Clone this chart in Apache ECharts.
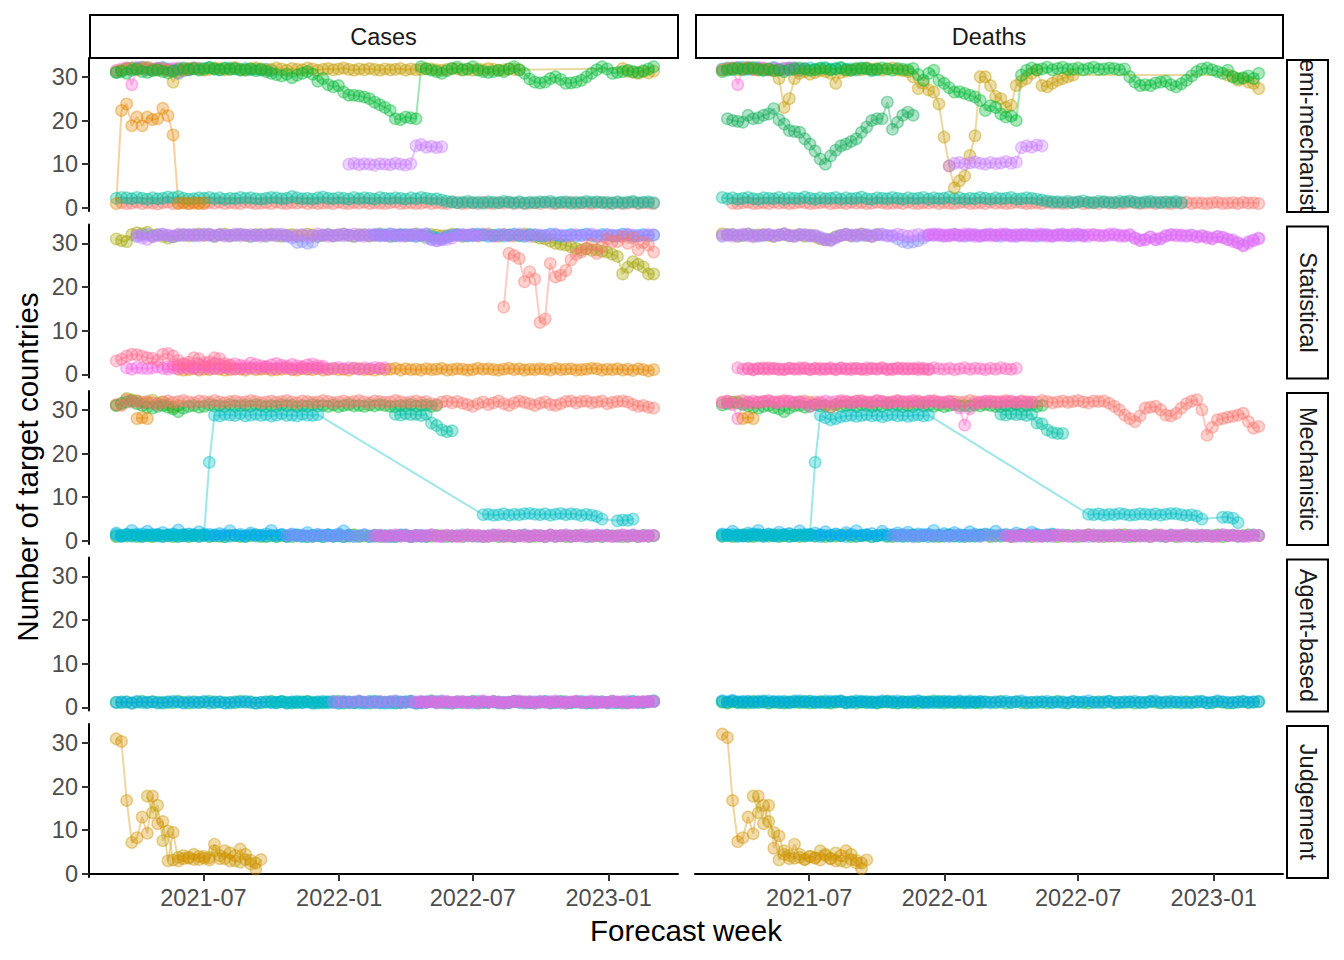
<!DOCTYPE html>
<html>
<head>
<meta charset="utf-8">
<title>Number of target countries by forecast week</title>
<script src="https://cdn.jsdelivr.net/npm/echarts@6/dist/echarts.min.js"></script>
<style>
html, body { margin: 0; padding: 0; background: #fff; }
#chart { width: 1344px; height: 960px; }
</style>
</head>
<body>
<div id="chart"></div>
<script>
// ---- data -------------------------------------------------------------
// week 0 of every array below = first forecast week, one value per week
var firstWeek = Date.UTC(2021, 2, 5);
var xTicks = ['2021-07', '2022-01', '2022-07', '2023-01'];
var yTicks = [0, 10, 20, 30];
var targets = ['Cases', 'Deaths'];
var modelTypes = ['Semi-mechanistic', 'Statistical', 'Mechanistic', 'Agent-based', 'Judgement'];

// Semi-mechanistic, cases
var scOrange = [1,22.3,23.8,18.8,20.8,18.8,20.8,20.2,20.4,22.8,21.1,16.7,1,1.2,1,1.1,1,1.2];
var scOliveA = [31.2,31.5,31.8,32,31.6,31.9,32.1,31.7,31.5,31.8,31.4,28.8,31.2,31.6,31.9,32,31.8,31.5,31.7,32,31.9,31.6,31.8,32.1,31.7,31.5,31.9,32,31.8,31.6,31.7,32,31.8,31.5,31.9,31.7,31.6,32,31.8,31.5,31.7,31.9,31.6,31.8,32,31.7,31.5,31.8,31.6,31.9,31.7,31.5,31.8,31.6,31.7,31.9,31.5,31.8,31.6,31.7,31.9,31.8,31.6,31.5,31.7,31.9,31.8,31.6,31.7,31.5,31.8,31.6,31.9,31.7,31.5,31.6,31.8,31.7,31.6];
var scOliveB = [31.9,31.3,31,30.8,31.2,30.9,31.3];
var scGreen = [31,31.2,30.8,31.5,31.8,31.2,31,31.4,31.6,31.2,30.9,31.3,31.7,32,31.6,31.8,31.5,31.9,32.1,31.8,31.6,32,31.7,31.9,31.5,31.6,31.8,31.4,31.7,31.2,30.8,
  30.5,30.2,30.6,29.8,30.4,30.8,31.2,30.6,
  29,29.6,28.2,27.7,28,26.5,25.8,25.8,25.6,25.4,25,24.2,23.6,23,22.3,20.4,20.2,20.8,20.6,20.4,
  32.3,31.8,31.5,31.2,30.8,31.4,31.9,32.2,31.6,31.8,32.3,31.5,31.2,31,31.2,31.5,31.2,31.8,32.3,31.6,30.8,29.5,28.8,28.6,28.8,29.6,30,29.4,28.5,28.6,28.8,29.2,30,30.8,31.6,32.3,31.8,30.8,31,31.2,31.5,31.2,31,31.4,31.8,32.3];
var scViolet = [10,10.2,9.9,10.1,10,9.8,10.1,10,9.9,10.2,10,9.8,10.1,14.2,14.5,13.9,14.1,13.8,14];
var scPink = [31.5,31.8,32,28.2,31.9,32.1,31.6,31.8,32,31.7,31.5,31.9,32,31.8,31.6];
var scCyan = [31,31.4,31.8,32,31.9,32.2,31.8,31.6,31.9,32.1,31.7,31.5,30.8,31.4,31.8,32,31.9,31.7,32.1,31.8,31.6,31.9,32,31.8,31.7,31.9,31.6,31.8,31.5,31.7,31.4];
var scPurple = [32,31.8,32.2,31.9,32.1,31.7,31.9,32,31.8,31.6,30.9,31.5,31.8,32,31.9];
var scTealA = [2.2,2.4,2.3,2.1,2.4,2.2,2,2.3,2.1,2.2,2.5,2.3,2.6,2.2,2,2.1,2.3,2.2,2.4,2.1,2.3,2,2.2,2.1,2.4,2.2,2.3,2.1,2,2.2,2.4,2.3,2.1,2.2,2.6,2.3,2.1,2.2,2,2.3,2.5,2.2,2.1,2.3,2.2,2,2.4,2.1,2.3,2.2,2,2.4,2.2,2.1,2.3,2.2,2,2.3,2.1,2.4,2.2,2,2.1,1.8,1.5];
var scTealB = [1.4,1.2,1.3,1.5,1.2,1.3,1.1,1.4,1.3,1.2,1.5,1.3,1.2,1.4,1.1,1.3,1.2,1.4,1.3,1.5,1.2,1.3,1.4,1.1,1.3,1.2,1.5,1.3,1.4,1.2,1.3,1.1,1.4,1.2,1.3,1.5,1.2,1.3,1.4,1.2];
var scRed = [1.2,1,1.1,1.3,1,1.2,1.1,0.9,1.2,1.3,1,1.1,1.2,1,1.3,1.1,1,1.2,1.1,1.3,1,1.2,1.1,1,1.3,1.2,1,1.1,1.2,1,1.3,1.1,1,1.2,1.1,1.3,1,1.2,1,1.1,1.2,1,1.3,1.1,1,1.2,1.1,1.3,1,1.2,1.1,1,1.2,1.3,1,1.1,1.2,1,1.1,1.3,1,1.2,1.1,1,1.3,1.2,1,1.1,1.2,1,1.3,1.1,1,1.2,1.1,1.3,1,1.2,1,1.1,1.2,1,1.3,1.1,1,1.2,1.1,1.3,1,1.2,1.1,1,1.2,1.3,1,1.1,1.2,1,1.1,1.3,1,1.2,1.1,1];

// Semi-mechanistic, deaths
var sdOliveA = [31.5,31.8,32,31.6,31.9,32.1,31.7,31.5,31.8,31.6,31.4,
  29.6,23,25,29.6,30.8,31.2,30.6,31,31.4,31.2,30.8,28.5,31,31.3,
  31.5,31.8,31.6,32,31.7,31.9,31.5,31.8,32,31.6,31.4,31.2,
  30,27.3,28.5,27,26.5,23.8,16.2,9.6,4.6,6.2,7.3,12,16.5,30,30,28,25.5,25,23,23.5,28,29,29.6,30.8,31.5,28,27.7,28.5,29.2,29.6,30,30.4];
var sdOliveB = [30.4,30,29.2,29.6,28.8,28.5,27.3];
var sdGreen = [31.2,31.5,31.8,32,31.6,31.9,32.1,31.7,31.5,31.8,31.4,31.6,31.2,31.6,31.9,32,31.8,31.5,31.7,32,31.9,31.6,31.8,32.1,31.7,31.5,31.9,32,31.8,31.6,31.7,32,31.8,31.5,31.9,31.7,31.6,
  31.9,30.5,29.2,30.8,31.5,29.2,28.5,27.5,26.5,26.6,26.2,25.8,25.4,24.6,22.3,23.4,23,21.5,20.8,21,20,
  30.4,31.5,32,31.6,31.8,32.2,31.6,31.9,32.2,31.7,31.8,32,31.6,31.9,32.2,31.7,31.8,32,31.9,31.6,31.8,30,28.8,28,28.2,28,28.6,28.8,29,28.2,27.7,28.4,29.2,30.2,31.2,31.8,32,31.6,31.2,30.8,31.5,30,29.6,29.8,30.2,29.6,30.8];
var sdDarkGreen = [20.4,20,19.8,19.6,21.2,20.4,20.6,21.2,21.5,22.7,20.2,19.2,17.7,17.5,17.3,15.8,14.6,13,11.2,10,11.9,13.2,14.2,14.6,15.2,15.8,17.3,18.5,20,20.4,20.4,24.2,18,19.6,21.2,21.9,21.2];
var sdViolet = [9.6,10.2,10.4,10,10.3,10.5,10.2,10,10.4,10.1,10.3,10.6,10.2,10.5,13.8,14.2,13.9,14.4,14.2];
var sdPink = [31.6,31.9,32,28.2,31.8,32.1,31.7,31.9,32,31.6,31.8,31.5,31.9,32,31.7];
var sdCyan = [31.8,32,31.6,31.9,32.2,31.7,31.9,32,31.5,31.8,32.1,31.6,31.9,32,31.7,31.4,31.8,32,31.6,31.9,32.1,31.7,31.9,32,31.6,31.8,31.5,31.9,32,31.4,31.6];
var sdPurple = [31.9,32.2,31.8,32,31.7,32.1,31.9,31.6,32,31.8,31.5,31.9,32.1,31.7,31.9];
var sdTealA = [2.4,2.1,2.3,2,2.2,2.4,2.1,2,2.3,2.2,2.1,2.4,2,2.3,2.2,2.1,2.5,2.2,2,2.3,2.1,2.2,2.4,2,2.3,2.1,2.2,2.5,2.1,2,2.3,2.2,2.1,2.4,2.2,2,2.3,2.1,2.2,2.4,2,2.3,2.1,2.2,2.5,2.1,2.3,2,2.2,2.1,2.4,2.2,2,2.3,2.1,2.2,2.4,2,2.1,2.3,2.2,2,1.8,1.6,1.4];
var sdTealB = [1.4,1.3,1.5,1.2,1.4,1.6,1.3,1.2,1.5,1.4,1.3,1.2,1.5,1.4,1.6,1.3,1.2,1.4,1.5,1.3,1.2,1.4,1.3,1.5,1.2];
var sdRed = [1.1,1,1.2,1.3,1,1.1,1.2,1,1.3,1.1,1.2,1,1.1,1.3,1.2,1,1.1,1.2,1.3,1,1.1,1.2,1,1.3,1.1,1.2,1,1.1,1.3,1.2,1,1.1,1.2,1,1.3,1.1,1,1.2,1.1,1.3,1,1.2,1.1,1,1.2,1.3,1,1.1,1.2,1,1.3,1.1,1.2,1,1.1,1.3,1.2,1,1.1,1.2,1,1.3,1.1,1.2,1,1.1,1.2,1.3,1,1.1,1.2,1,1.3,1.1,1.2,1,1.1,1.3,1.2,1,1.1,1.2,1,1.3,1.1,1,1.2,1.1,1.3,1,1.2,1.1,1,1.2,1.3,1,1.1,1.2,1,1.3,1.1,1.2,1];

// Statistical, cases
var tcOlive = [31,30.6,30.4,32,32.4,32.2,32.5,31.8,32,31.6,31.2,
  31.5,31.8,32,31.7,31.9,32.1,31.8,32,31.6,31.9,32.1,31.7,31.9,32,31.8,31.6,32,31.9,31.7,32.1,31.8,31.6,31.9,32,31.7,31.8,32.1,31.9,31.6,31.8,32,31.7,31.9,32.1,31.8,31.6,32,31.9,31.7,31.8,32.1,31.9,31.6,31.8,32,31.7,31.9,32.1,31.8,31.6,32,31.9,31.7,31.8,32.1,31.9,31.6,31.8,32,31.7,31.9,32.1,31.8,31.6,32,31.9,31.7,31.8,32.1,31.9,31.5,31.2,31,30.5,
  30,29.8,29.6,29.2,28.8,28.5,28.8,28.4,28.5,28.2,28,27.5,27,23,24.5,25.8,25.2,24.6,23,23];
var tcRed = [15.4,27.7,27.2,26.5,21.2,23.5,21.8,11.9,12.7,25.4,22.3,22.7,23.8,26.2,27.5,28,28.8,29.8,27.7,29.2,31,30.4,30.4,31.5,30,31.2,28.5,30.2,29.6,28];
var tcPurple = [31.8,31.2,30.9,31.5,31.8,32,31.9,31.7,32.1,31.8,31.9,32,31.7,31.9,32.1,31.8,32,31.6,31.9,32.1,31.7,31.9,32,31.8,31.6,32,31.9,31.7,32.1,31.8,31.6,31.9,32,31.7,31.8,32.1,31.9,31.6,31.8,32,31.7,31.9,32.1,31.8,31.6,32,31.9,31.7,31.8,32.1,31.9,31.6,31.8,32,31.7,31.9,32.1,31,30.6,30.8,30.9,31.2,31.8,32,31.9,31.7,31.8,32.1,31.9,31.6,31.8,32,31.7,31.9,32.1,31.8,31.6,32,31.9,31.7,31.8,32.1,31.9,31.6,31.8,32,31.7,31.9,32.1,31.8,31.6,32,31.9,31.7,31.8,32.1,31.9,31.6,31.8,32,31.9];
var tcLavender = [31.5,31.8,32,31.6,31.9,32.1,31.7,31.5,31.8,31.9,32,31.7,31.9,32.1,31.8,31.6,32,31.9,31.7,31.8,32.1,31.9,31.6,31.8,32,31.7,31.9,32.1,31.8,31.6,31.2,30.2,30.4,30,30.3,31.6,31.9,32,31.7,31.8,32.1,31.9,31.6,31.8,32,31.7,31.9,32.1,31.8,31.6,32,31.9,31.7,31.8,32.1,31.9,31.2,30.8,30.6,31.2,31.6,31.8,32,31.7,31.9,32.1,31.8];
var tcBlue = [32,31.8,31.9,32.1,31.7,31.9,32,31.8,31.6,31.9,32.1,31.5,31.2,30.9,31.4,31.8,32,31.9,31.7,31.8,32.1,31.9,31.6,31.8,32,31.7,31.9,32.1,31.8,31.6,32,31.9,31.7,31.8,32.1,31.9,31.6,31.8,32,31.7,31.9,32.1,31.8,31.6,32,31.9,31.7,31.8,32.1,31.9,31.6,31.8,32,31.7,31.9];
var tcPink = [3.1,3.5,4.2,4.6,4.5,4.2,3.8,3.7,3.2,4.6,4.8,4.2,3.2,2.4,2.8,3.8,3.6,2.7,2.9,3.8,3.6,2.5,2.2];
var tcMagenta = [1.5,1.2,1.6,1.4,1.3,1.5,1.7,1.4,1.2,1.5,1.3,1.6,1.4,1.5,1.2,1.7,1.4,1.3,1.5,1.6,1.4,1.2,1.5,1.3,1.6,1.4,1.5,1.7,1.3,1.4,1.6,1.5,1.2,1.4,1.5,1.3,1.6,1.4,1.5,1.2,1.4,1.6,1.3,1.5,1.4,1.2,1.5,1.3,1.6,1.4,1.5];
var tcHotPink = [1.8,2.2,1.9,2.4,2,1.7,2.3,2.1,1.9,2.5,2.2,1.8,2,2.4,2.1,1.9,2.6,2.3,2,1.8,2.2,2.5,2.1,1.9,2.3,2,1.8,2.2,2.4,2,1.9];
var tcOrange = [1.2,1,1.1,1.3,1,1.2,1.1,1.4,1.2,1,1.1,1.3,1.2,1,1.4,1.1,1.2,1.3,1,1.1,1.2,1.4,1.1,1,1.3,1.2,1.1,1.4,1,1.2,1.3,1.1,1.2,1,1.4,1.3,1.1,1.2,1,1.3,1.1,1.2,1.4,1,1.3,1.1,1.2,1,1.3,1.1,1.2,1.4,1,1.1,1.3,1.2,1,1.1,1.4,1.2,1.3,1.1,1,1.2,1.4,1.1,1.3,1,1.2,1.1,1.3,1.2,1,1.4,1.1,1.2,1.3,1,1.1,1.2,1.4,1.3,1,1.2,1.1,1.3,1,1.2,0.9,1.3,1.1,0.8,1.1];

// Statistical, deaths
var tdPurple = [31.8,32,31.6,31.9,32.1,31.7,31.5,31.8,31.9,32,31.7,31.9,32.1,31.8,31.6,31.9,32,31.7,31.8,31.2,30.8,30.6,31.2,31.8,32,31.7,31.9,32.1,31.8,31.6,32,31.9,31.7,31.8,32.1,31.9,31.6,31.8,32,31.7,31.9,32.1,31.8,31.6,32,31.9,31.7,31.8,32.1,31.9,31.6,31.8,32,31.7,31.9,32.1,31.8,31.6,32,31.9,31.7,31.8,32.1,31.9,31.6,31.8,32,31.7,31.9,32.1,31.8,31.6,32,31.9,31.7,31.8,32.1,31.9,31.6,31.8,31.2,30.8,30.9,31.5,30.8,31,31.6,31.9,32,31.7,31.8,31.9,31.6,31.8,31.5,31.2,31.6,31.4,31,30.8,30.2,29.6,30.4,30.8,31];
var tdLavender = [31.6,31.9,32,31.7,31.8,32.1,31.9,31.6,31.8,32,31.7,31.9,32.1,31.8,31.6,32,31.9,31.7,31.8,31.4,31,30.8,31.4,31.8,32.1,31.9,31.6,31.8,32,31.7,31.9,32.1,31.8,31.6,31,30.4,30.1,30.3,30.6,31.2,31.8,32,31.9,31.7,31.8,32.1,31.9,31.6,31.8,32,31.7,31.9,32.1,31.8,31.6,32,31.9,31.7,31.8,32.1,31.9,31.6,31.8,32,31.7,31.9,32.1,31.8,31.6,32,31.9];
var tdOlive = [32.2,31.9,32,31.6,31.8,32.1,31.7,31.9,32,31.8,31.6,31.9,32.1,31.7,31.8,32,31.6,31.9,31.5,31,30.8,30.9,31.5,31.8,32,31.7,31.9,32.1,31.8,31.6,32];
var tdMagenta = [32,31.8,32.1,31.9,31.7,32,31.8,32.1,31.9,31.6,31.8,32,31.7,31.9,32.1,31.8,31.6,32,31.9,31.7,31.8,32.1,31.9,31.6,31.8,32,31.7,31.9,32.1,31.8,31.6,32,31.9,31.7,31.8,32.1,31.9,31.6,31.8,32,31.2,30.6,30.8,31.4,30.9,31.2,31.8,32,31.7,31.9,31.6,31.8,31.4,31.6,31.2,31,31.5,31.3,30.8,30.4,30,29.4,30,30.6,31.2];
var tdPink = [1.5,1.2,1.4,1.1,1.3,1.5,1.2,1.4,1.3,1.1,1.4,1.2,1.5,1.3,1.2,1.4,1.1,1.3,1.5,1.2,1.4,1.3,1.1,1.4,1.2,1.5,1.3,1.2,1.4,1.1,1.3,1.5,1.2,1.4,1.3,1.1,1.4,1.2,1.5,1.3,1.2,1.4,1.1,1.3,1.5,1.2,1.4,1.3,1.1,1.4,1.2,1.5,1.3,1.2,1.4];
var tdPink2 = [1.3,1.1,1.4,1.2,1.5,1.3,1.1,1.2,1.4,1.3,1.2,1.5,1.1,1.3,1.4,1.2,1.3,1.1,1.5,1.2,1.4,1.3,1.2,1.1,1.4,1.3,1.5,1.2,1.1,1.3,1.4,1.2,1.3,1.5,1.2,1.1];

// Mechanistic, cases
var mcRed = [31.2,31,32.3,31.8,32,31.5,31.9,31.6,31.2,31.8,32,31.7,31.9,32.1,31.8,31.6,32,31.9,31.7,32.1,31.8,31.6,31.9,32,31.7,31.8,32.1,31.9,31.6,31.8,32,31.7,31.9,32.1,31.8,31.6,32,31.9,31.7,31.8,32.1,31.9,31.6,31.8,32,31.7,31.9,32.1,31.8,31.6,32,31.9,31.7,31.8,32.1,31.9,31.6,31.8,32,31.7,31.9,31.4,31.2,31.8,32,31.6,31.9,31.5,31.2,30.8,31.4,31.8,31.2,31.6,32,31.4,31,31.6,32,31.7,31.4,31,31.5,31.8,31.2,31,31.4,31.9,32,31.6,31.9,32,31.6,31.8,32,31.4,31.7,31.9,32,31.8,31.2,30.8,31,30.6,30.4];
var mcGreen = [31,31.5,31.8,32,31.4,31,30.6,30.4,30.8,31,30.6,30.2,29.6,30.4,30.8,31,30.6,30.8,31.2,30.9,31,30.7,31.2,30.8,31,31.1,30.8,31.2,31,30.7,31,30.8,31.2,30.9,31.1,30.7,31,30.8,31.2,30.9,31,30.8,31.1,30.7,31,31.2,30.9,31,30.8,31.1,30.9,31.2,31,30.8,30.7,31,30.9,31.2,30.8,31,31.1,30.8,31];
var mcOlive = [31,31.3,32.6,32.3,32,31.8,31.6,32.2,31.5,31.8,31.2,30.6,31];
var mcOrange = [28,28.2,28];
var mcTealA = [1.5,1.2,1.4,1.3,1.6,1.2,1.4,1.3,1.5,1.2,1.4,1.6,1.3,1.2,1.5,1.4,1.3,1.6,
  18,
  28.8,28.6,29,28.8,28.7,29.1,28.6,28.8,29,28.7,28.9,28.6,28.8,29.1,28.7,28.8,28.6,29,28.8,28.7,28.9];
var mcTealB = [6,6.1,5.9,6,6.2,5.9,6.1,6,6.2,6.3,6.1,6,6.2,5.9,6.1,6.3,6,6.2,6.1,5.8,6.1,5.9,5.6,5];
var mcTealC = [4.6,4.8,4.7,5];
var mcTeal2 = [29,28.8,29.1,28.9,29,28.7,29,27,26.4,25.4,25,25.2];
var mcBlue = [1.8,1.2,1.5,2.4,1.3,1.6,2.2,1.2,1.4,1.9,1.3,1.5,2.5,1.2,1.6,1.4,2.1,1.3,1.5,1.2,1.7,1.4,2.3,1.3,1.5,1.2,1.8,1.4,1.3,1.6,2.4,1.3,1.5,1.2,1.6,1.4,1.3,1.9,1.2,1.5,1.3,1.4,1.2,1.6,2.3,1.3];
var mcSky = [1.2,1,1.4,1.1,1.3,1,1.2,1.5,1.1,1,1.3,1.2,1,1.4,1.1,1.2,1,1.3,1.1,1.4,1.2,1,1.1,1.3,1.2,1,1.4,1.1,1.3,1,1.2,1.1,1.4,1,1.3,1.2,1,1.1,1.3,1.2,1,1.4,1.1,1.2,1,1.3,1.1,1.2,1.4,1,1.1,1.3,1.2,1,1.1,1.4,1.2,1,1.3,1.1,1.2];
var mcGreen2 = [1,1.2,1.1,1.3,1,1.1,1.2,1,1.3,1.1,1.2,1,1.1,1.4,1,1.2,1.1,1.3,1,1.2,1.1,1,1.3,1.2,1,1.1,1.2,1.4,1,1.1,1.3,1,1.2,1.1,1,1.3,1.2,1,1.1,1.2,1,1.3,1.1,1.2,1,1.1,1.4,1,1.2,1.1,1.3,1,1.2,1.1,1,1.2,1.3,1,1.1,1.2,1,1.1,1.3,1.2,1,1.1,1.2,1,1.3,1.1,1.2,1,1.1,1.3,1,1.2,1.1,1,1.2,1.3,1,1.1,1.2,1,1.3,1.1,1.2,1,1.1,1.2,1.3,1,1.1,1.2,1,1.3,1.1,1.2,1,1.1,1.2,1,1.3,1.1,1.2];
var mcPurple = [1.2,1.4,1.1,1.3,1.2,1,1.4,1.3,1.1,1.2,1.4,1.1,1.3,1,1.2,1.4,1.1,1.3,1.2,1,1.3,1.1,1.2,1.4,1,1.2,1.3,1.1,1.4,1.2,1,1.3,1.1,1.2,1.4,1.1,1.3,1,1.2,1.1,1.4,1.2,1.1,1.3,1,1.2,1.4,1.1,1.3,1.2,1.1,1.3,1,1.2,1.4,1.1,1.2,1.3,1,1.2,1.4,1.1,1.3,1.2,1,1.3,1.1,1.4,1.2,1.1,1.3,1.2];
var mcMagenta = [1.1,1.3,1,1.2,1.4,1.1,1.2,1,1.3,1.1,1.2,1.4,1,1.1,1.3,1.2,1,1.1,1.4,1.2,1.3,1,1.1,1.2,1.4,1,1.3,1.1,1.2,1,1.1,1.3,1.2,1,1.4,1.1,1.2,1.3,1,1.2,1.1,1.4,1,1.2,1.3,1.1,1,1.2,1.4,1.1,1.3,1,1.2,1.1,1.3];

// Mechanistic, deaths
var mdRedA = [31.8,32,31.6,31.9,32.1,31.7,31.5,31.8,31.9,32,31.7,31.9,32.1,31.8,31.6,31.9,32,31.7,31.8,31.5,31,30.6,31.2,31.8,32,31.7,31.9,32.1,31.8,31.6,32,31.9,31.7,31.8,32.1,31.9,31.6,31.8,32,31.7,31.9,32.1,31.8,31.6,32,31.9,31.7,31.8,32.1,31.9,31.6,31.8,32,31.7,31.9,32.1,31.8,31.6,32,31.9,31.7,31.8,32.1,31.9,31.6,31.8,32,31.7,31.9,32.1,31.8,31.6,32,31.9];
var mdRedB = [32,31.5,30.8,30,28.8,28,27.3,28.6,30.4,30.6,30.8,30,28.8,28.6,29.2,30.4,31.4,32,32.3,30,24.2,26,27.7,28,28.3,28.5,28.8,29.2,27.3,25.8,26.2];
var mdPink = [31.6,31.9,31.2,28,31.4,31.8,32,31.7,31.9,32.1,31.8,31.6,31.9,32,31.7,31.8,31.5,30.8,31.2,31.8,32,31.7,31.9,32.1,31.8,31.6,32,31.9,31.7,31.8,32.1,31.9,31.6,31.8,32,31.7,31.9,32.1,31.8,31.6,32,31.9,31.7,31.8,31.8,31.2,30.4,26.5,30.2,31.4,31.8,32,31.7,31.9,31.6,31.8,32,31.7,31.9,31.6,31.8];
var mdGreen = [31.1,31.4,31.8,31.6,31.2,30.9,30.6,30.4,30.8,31,30.5,30.2,29.6,30.4,30.9,31,30.6,30.8,31.2,30.9,31,30.6,31.2,30.8,31,31.1,30.7,31.2,31,30.7,31,30.8,31.2,30.9,31.1,30.7,31,30.8,31.2,30.9,31,30.8,31.1,30.7,31,31.2,30.9,31,30.8,31.1,30.9,31.2,31,30.8,30.7,31,30.9,31.2,30.8,31,31.1,30.8,31];
var mdOrange = [28,28.3,28];
var mdTealA = [1.4,1.2,1.5,1.3,1.1,1.4,1.6,1.2,1.3,1.5,1.2,1.4,1.3,1.6,1.2,1.4,1.3,1.5,
  18,
  28.8,28.2,27.7,28,28.4,28.6,28.8,28.5,28.7,28.9,28.6,28.8,28.4,28.7,28.9,28.6,28.8,28.5,28.7,28.9,28.6,28.8];
var mdTealB = [6.1,6,6.2,5.9,6.1,6,6.3,6.1,5.9,6,6.2,6.1,6,6.2,5.9,6.1,6.3,6.2,6,5.8,6,5.7,5];
var mdTealC = [5.4,5.4,5.2,4.2];
var mdTeal2 = [29,28.8,29.1,28.9,29,28.7,29,27,26.8,25.4,24.8,24.6,24.6];
var mdBlue = [1.6,1.3,2.2,1.4,1.2,1.8,1.5,2.4,1.3,1.6,1.2,2,1.4,1.7,1.3,2.3,1.5,1.2,1.8,1.4,2.1,1.3,1.6,1.2,1.9,1.5,2.3,1.3,1.4,1.7,1.2,2.2,1.5,1.3,1.8,1.4,2,1.3,1.6,1.2,1.5,2.4,1.3,1.7,1.2,1.9,1.4,1.3,2.1,1.5,1.2,1.6,1.4,2.2,1.3,1.5,1.2,1.8,1.4,1.3,2,1.5,1.2,1.4,1.6];
var mdSky = [1.1,1.4,1.2,1,1.3,1.1,1.2,1.5,1,1.3,1.2,1.1,1.4,1,1.2,1.3,1.1,1.4,1.2,1,1.3,1.1,1.5,1.2,1,1.3,1.1,1.2,1.4,1,1.2,1.3,1.1,1.4,1.2,1,1.3,1.1,1.2,1.5,1,1.2,1.3,1.1,1.4,1.2,1,1.3,1.1,1.2,1.4];
var mdGreen2 = [1.1,1.3,1,1.2,1.4,1.1,1,1.3,1.2,1.1,1.4,1,1.2,1.1,1.3,1,1.2,1.4,1.1,1.3,1,1.2,1.1,1.3,1.4,1,1.1,1.2,1.3,1,1.2,1.4,1.1,1,1.3,1.2,1.1,1.4,1,1.2,1.3,1.1,1,1.2,1.4,1.1,1.3,1,1.2,1.1,1.3,1.4,1,1.2,1.1,1.3,1,1.2,1.4,1.1,1,1.3,1.2,1.1,1.4,1,1.2,1.3,1.1,1,1.2,1.4,1.1,1.3,1,1.2,1.1,1.3,1.4,1,1.1,1.2,1.3,1,1.4,1.2,1.1,1.3,1,1.2,1.4,1.1,1,1.3,1.2,1.1,1.4,1,1.2,1.3,1.1,1.2,1.4,1.3,1.2];
var mdPurple = [1.3,1.1,1.4,1.2,1,1.3,1.2,1.4,1.1,1.3,1.2,1,1.4,1.3,1.1,1.2,1.4,1,1.3,1.2,1.1,1.4,1.2,1.3,1,1.2,1.1,1.4,1.3,1.1,1.2,1,1.3,1.4,1.2,1.1,1.3,1.2,1,1.4,1.1,1.3,1.2,1.4,1.1,1,1.3,1.2,1.4,1.1,1.2,1.3,1.1,1,1.4,1.2,1.3,1.1,1.2,1.4,1,1.3,1.2,1.1,1.4,1.2,1.3,1.1,1,1.2,1.4,1.3];
var mdMagenta = [1.2,1,1.3,1.1,1.4,1.2,1,1.1,1.3,1.2,1.4,1.1,1,1.2,1.3,1.1,1.4,1.2,1,1.3,1.1,1.2,1.4,1,1.3,1.2,1.1,1.3,1,1.2,1.4,1.1,1.2,1.3,1,1.4,1.2,1.1,1.3,1.2,1,1.1,1.4,1.2,1.3,1.1,1.2,1,1.3,1.2];

// Agent-based
var acGreen = [1.2,1.1,1.3,1,1.2,1.4,1.1,1.3,1.2,1,1.3,1.1,1.4,1.2,1,1.3,1.1,1.2,1.4,1.1,1.3,1,1.2,1.1,1.4,1.2,1.3,1,1.1,1.2,1.4,1.1,1.3,1.2,1,1.1,1.3,1.4,1.2,1,1.1,1.3,1.2,1.4,1,1.2,1.1,1.3,1.2,1,1.4,1.1,1.2,1.3,1,1.1,1.2,1.4,1.1,1.3,1.2,1.5,1.3,1.1,1.2,1,1.3,1.1,1.2,1.4,1,1.2,1.1,1.3,1.2,1,1.1,1.4,1.2,1.3,1.1,1,1.2,1.3,1.1,1.2,1.4,1,1.1,1.3,1.2,1.1,1,1.3,1.2,1.1,1.4,1.2,1,1.1,1.3,1.2,1.1,1.3,1.4];
var acBlue = [1.1,1.3,1.2,1,1.4,1.1,1.2,1.3,1,1.2,1.1,1.4,1.2,1,1.3,1.1,1.2,1.4,1,1.3,1.2,1.1,1,1.3,1.2,1.4,1.1,1,1.2,1.3,1.1,1.2,1.4,1,1.3,1.2,1.1,1.3,1,1.2,1.4,1.1,1.2,1,1.3,1.1,1.2,1.4,1,1.2,1.3,1.1,1,1.2,1.4,1.1,1.3,1.2,1,1.1,1.3];
var acTeal = [1.2,1.1,1.3,1,1.2,1.4,1.1,1.2,1,1.3,1.1,1.2,1.4,1,1.2,1.3,1.1,1,1.2,1.4,1.1,1.3,1.2,1,1.1,1.3,1.2,1.4,1,1.1,1.2,1.3,1.1,1.4,1,1.2,1.1,1.3,1.2,1,1.4,1.1,1.2,1.3,1,1.2,1.1,1.4,1.2,1,1.1,1.3,1.2,1.4,1,1.1,1.2,1.3,1.1,1.2,1.4,1,1.2,1.1,1.3,1.2,1,1.1,1.3,1.2,1.4,1.1,1.2,1.3,1.5];
var acPurple = [1.3,1.2,1.4,1.1,1.3,1.5,1.2,1.3,1.1,1.4,1.2,1.3,1.5,1.1,1.2,1.4,1.3,1.1,1.2,1.4,1.3,1.5,1.2,1.1,1.3,1.4,1.2,1.3,1.1,1.5,1.2,1.4,1.3,1.1,1.2,1.3,1.5,1.2,1.4,1.1,1.3,1.2,1.4,1.5,1.1,1.3,1.2,1.4,1.1,1.3,1.5,1.2,1.3,1.1,1.4,1.2,1.3,1.5,1.1,1.2,1.4,1.3,1.4];
var acMagenta = [1.1,1.4,1.2,1.3,1,1.2,1.4,1.1,1.3,1.2,1,1.3,1.1,1.4,1.2,1.3,1.1,1,1.2,1.4,1.3,1.1,1.2,1,1.4,1.2,1.1,1.3,1.2,1,1.3,1.4,1.1,1.2,1.3,1,1.2,1.1,1.4,1.3,1.2,1,1.1,1.3,1.2,1.4,1.3];
var adBlue = [1.5,1.3,1.6,1.2,1.4,1.3,1.1,1.4,1.2,1.5,1.3,1.2,1.4,1.1,1.3,1.5,1.2,1.4,1.3,1.1,1.2,1.4,1.3,1.5,1.1,1.2,1.3,1.4,1.2,1.1,1.3,1.5,1.2,1.4,1.1,1.3,1.2,1.4,1.5,1.1,1.2,1.3,1.1,1.4,1.2,1.3,1.5,1.2,1.1,1.3,1.4,1.2,1.1,1.3,1.2,1.4,1.1,1.3,1.5,1.2,1.1,1.3,1.2,1.4,1.1,1.2,1.3,1.1,1.4,1.2,1.3,1.5,1.2,1.1,1.3,1.4,1.2,1.1,1.3,1.2,1.4,1.1,1.2,1.3,1.5,1.2,1.1,1.4,1.2,1.3,1.1,1.2,1.4,1.3,1.1,1.2,1.5,1.3,1.2,1.1,1.3,1.4,1.2,1.3,1.4];
var adGreen = [1.2,1,1.3,1.1,1.2,1,1.4,1.1,1.3,1,1.2,1.1,1,1.3,1.2,1.1,1.4,1,1.2,1.3,1.1,1,1.2,1.4,1.1,1.3,1,1.2,1.1,1.3,1,1.2,1.4,1.1,1,1.3,1.2,1.1,1,1.2,1.3,1.1,1.4,1,1.2,1.1,1.3,1,1.2,1.1,1,1.3,1.2,1.1,1.4,1,1.2,1.3,1.1,1,1.2,1.1,1.3,1,1.2,1.4,1.1,1,1.3,1.2,1.1,1,1.2,1.3,1.1,1.4,1,1.2,1.1,1.3,1,1.2,1.1,1.4,1.2,1,1.3,1.1,1.2,1,1.3,1.1,1.2,1.4,1,1.1,1.3,1.2,1,1.1,1.2,1.3,1.1,1.2,1.3];
var adTeal = [1.4,1.2,1.5,1.3,1.1,1.4,1.2,1.3,1.5,1.1,1.3,1.4,1.2,1.1,1.5,1.3,1.2,1.4,1.1,1.3,1.5,1.2,1.4,1.3,1.1,1.2,1.5,1.3,1.4,1.2,1.1,1.3,1.4,1.2,1.5,1.1,1.3,1.2,1.4,1.3,1.1,1.5,1.2,1.3,1.4,1.2,1.1,1.3,1.5,1.2,1.3];

// Judgement
var jcGold = [30.9,30.3,16.8,7.2,8.3,13,9.3,17.8,11.5,12,3,9.5,3,3.5,3.8,3.3,4,3.6,3.2,6.8,3.5,5.3,3,4.2,5.7,3.3,2.3,1.1,3.3];
var jcGold2 = [17.8,14,15.7,7.6,9.8,3.2,3.8,4.2,3.6,4.5,3.3,4,3.7,5.3,4.2,3.5,4.8,3,2.7,4.5,3.1,2.5];
var jdGold = [32,31.2,16.8,7.4,8.3,13,9.2,17.8,11.5,15.7,5.9,8.7,4.5,3.5,6.8,3.8,3.3,4,3.6,3.2,4.5,3.5,3,4.2,5.3,3.3,2.5,1.2,3.2];
var jdGold2 = [17.8,14,15.7,12,9.5,3.2,5.3,4.2,3.6,4.5,3.3,4,3.7,5.3,4.2,3.5,4.8,3,2.7,4.5,3.1,2.5];

// panel -> [model, first week of the array, values]
var panelData = {
  'Semi-mechanistic|Cases': [
    ['s10', 1, scRed], ['s9', 0, scTealA], ['s9', 65, scTealB], ['s7', 0, scCyan], ['s8', 2, scPurple],
    ['s6', 0, scPink], ['s2', 0, scOliveA], ['s2', 98, scOliveB], ['s3', 0, scGreen], ['s5', 45, scViolet], ['s1', 0, scOrange]],
  'Semi-mechanistic|Deaths': [
    ['s10', 2, sdRed], ['s9', 0, sdTealA], ['s9', 65, sdTealB], ['s7', 0, sdCyan], ['s8', 2, sdPurple],
    ['s6', 0, sdPink], ['s2', 0, sdOliveA], ['s2', 98, sdOliveB], ['s3', 0, sdGreen], ['s4', 1, sdDarkGreen], ['s5', 44, sdViolet]],
  'Statistical|Cases': [
    ['t9', 12, tcOrange], ['t7', 2, tcMagenta], ['t8', 10, tcHotPink], ['t6', 0, tcPink],
    ['t1', 0, tcOlive], ['t5', 50, tcBlue], ['t4', 4, tcLavender], ['t3', 4, tcPurple], ['t2', 75, tcRed]],
  'Statistical|Deaths': [
    ['t6', 5, tdPink2], ['t8', 3, tdPink], ['t1', 0, tdOlive], ['t4', 0, tdLavender], ['t3', 0, tdPurple], ['t10', 40, tdMagenta]],
  'Mechanistic|Cases': [
    ['k9', 0, mcGreen2], ['k8', 0, mcSky], ['k7', 0, mcBlue], ['k10', 33, mcPurple], ['k11', 50, mcMagenta],
    ['k3', 0, mcOlive], ['k2', 0, mcGreen], ['k1', 0, mcRed], ['k4', 4, mcOrange],
    ['k5', 0, mcTealA], ['k5', 71, mcTealB], ['k5', 97, mcTealC], ['k6', 54, mcTeal2]],
  'Mechanistic|Deaths': [
    ['k9', 0, mdGreen2], ['k8', 0, mdSky], ['k7', 0, mdBlue], ['k10', 33, mdPurple], ['k11', 55, mdMagenta],
    ['k2', 0, mdGreen], ['k1', 0, mdRedA], ['k1', 74, mdRedB], ['k12', 0, mdPink], ['k4', 4, mdOrange],
    ['k5', 0, mdTealA], ['k5', 71, mdTealB], ['k5', 97, mdTealC], ['k6', 54, mdTeal2]],
  'Agent-based|Cases': [
    ['a1', 0, acGreen], ['a2', 0, acBlue], ['a3', 30, acTeal], ['a4', 42, acPurple], ['a5', 58, acMagenta]],
  'Agent-based|Deaths': [
    ['a3', 0, adTeal], ['a1', 0, adGreen], ['a2', 0, adBlue]],
  'Judgement|Cases': [['j2', 6, jcGold2], ['j1', 0, jcGold]],
  'Judgement|Deaths': [['j2', 6, jdGold2], ['j1', 0, jdGold]]
};

var modelColours = {
  s1: '#E58700', s2: '#C49A00', s3: '#00BA38', s4: '#10AB58', s5: '#C77CFF', s6: '#FD61D1',
  s7: '#00BCD8', s8: '#B983FF', s9: '#00BF9F', s10: '#F8766D',
  t1: '#A3A500', t2: '#F8766D', t3: '#C77CFF', t4: '#8C94FF', t5: '#00A9FF', t6: '#FF6C91',
  t7: '#F564E3', t8: '#FF62BC', t9: '#E58700', t10: '#E76BF3',
  k1: '#F8766D', k2: '#00BA38', k3: '#A3A500', k4: '#E58700', k5: '#00BFC4', k6: '#00BFA5',
  k7: '#00A9FF', k8: '#00B8E7', k9: '#39B600', k10: '#9590FF', k11: '#F564E3', k12: '#FF61C3',
  a1: '#00BA38', a2: '#00A9FF', a3: '#00BFC4', a4: '#C77CFF', a5: '#F564E3',
  j1: '#D39200', j2: '#C49A00'
};

// ---- layout -----------------------------------------------------------
var FONT = "'Liberation Sans', Arial, Helvetica, sans-serif";
var colLeft = [89, 695], colWidth = [589, 588];
var rowTop = [58, 224.5, 391, 557.5, 724], rowHeight = 153;
var xMin = Date.UTC(2021, 0, 27), xMax = Date.UTC(2023, 3, 5);
var yMin = -0.7, yMax = 34.3;
var WEEK = 7 * 86400000;

function rgba(hex, a) {
  var n = parseInt(hex.slice(1), 16);
  return 'rgba(' + (n >> 16) + ',' + ((n >> 8) & 255) + ',' + (n & 255) + ',' + a + ')';
}

var tickTimes = xTicks.map(function (s) {
  var p = s.split('-');
  return Date.UTC(+p[0], +p[1] - 1, 1);
});

var grids = [], xAxes = [], yAxes = [], series = [];
modelTypes.forEach(function (type, r) {
  targets.forEach(function (target, c) {
    var i = r * 2 + c;
    grids.push({ left: colLeft[c], top: rowTop[r], width: colWidth[c], height: rowHeight });
    xAxes.push({
      type: 'value', gridIndex: i, min: xMin, max: xMax, show: r === 4,
      axisLine: { show: true, lineStyle: { color: '#000', width: 2 } },
      axisTick: { show: true, customValues: tickTimes, length: 7, lineStyle: { color: '#333', width: 2 } },
      axisLabel: {
        customValues: tickTimes, margin: 9, fontSize: 23.5, fontFamily: FONT, color: '#4D4D4D',
        formatter: function (v) {
          var d = new Date(v);
          return d.getUTCFullYear() + '-' + ('0' + (d.getUTCMonth() + 1)).slice(-2);
        }
      },
      splitLine: { show: false }
    });
    yAxes.push({
      type: 'value', gridIndex: i, min: yMin, max: yMax, show: c === 0,
      axisLine: { show: true, lineStyle: { color: '#000', width: 2 } },
      axisTick: { show: true, customValues: yTicks, length: 7, lineStyle: { color: '#333', width: 2 } },
      axisLabel: { customValues: yTicks, margin: 11, fontSize: 23.5, fontFamily: FONT, color: '#4D4D4D' },
      splitLine: { show: false }
    });

    // merge the pieces of each model into one line (absent weeks are skipped and joined)
    var byModel = {}, order = [];
    panelData[type + '|' + target].forEach(function (e) {
      if (!byModel[e[0]]) { byModel[e[0]] = []; order.push(e[0]); }
      e[2].forEach(function (v, k) {
        if (v !== null) byModel[e[0]].push([firstWeek + (e[1] + k) * WEEK, v]);
      });
    });
    order.forEach(function (m) {
      var col = modelColours[m];
      byModel[m].sort(function (a, b) { return a[0] - b[0]; });
      series.push({
        type: 'line', name: m, xAxisIndex: i, yAxisIndex: i, data: byModel[m],
        symbol: 'circle', symbolSize: 11.5, showSymbol: true, showAllSymbol: true,
        lineStyle: { color: rgba(col, 0.38), width: 2 },
        itemStyle: { color: rgba(col, 0.33), borderColor: rgba(col, 0.42), borderWidth: 1.4 },
        emphasis: { disabled: true }, silent: true, clip: false, animation: false
      });
    });
  });
});

// facet strips and axis titles
var graphics = [];
targets.forEach(function (t, c) {
  graphics.push({ type: 'rect', z: 10, shape: { x: colLeft[c] + 1, y: 15, width: colWidth[c] - 1, height: 43 },
    style: { fill: '#fff', stroke: '#000', lineWidth: 2 } });
  graphics.push({ type: 'text', z: 11, x: colLeft[c] + colWidth[c] / 2, y: 37,
    style: { text: t, fontSize: 23.5, fontFamily: FONT, fill: '#1A1A1A', align: 'center', verticalAlign: 'middle',
      textAlign: 'center', textVerticalAlign: 'middle' } });
});
var stripX = 1287, stripW = 41;
// white covers so the long first label is cut at its box
graphics.push({ type: 'rect', z: 8, shape: { x: 1285, y: 0, width: 59, height: rowTop[0] + 2 }, style: { fill: '#fff' } });
graphics.push({ type: 'rect', z: 8, shape: { x: 1285, y: rowTop[0] + rowHeight, width: 59, height: rowTop[1] - rowTop[0] - rowHeight + 2 }, style: { fill: '#fff' } });
modelTypes.forEach(function (type, r) {
  var y0 = rowTop[r] + 2, h = rowHeight - 1;
  graphics.push({ type: 'rect', z: r === 0 ? 9 : 8, shape: { x: stripX, y: y0, width: stripW, height: h },
    style: { fill: r === 0 ? 'none' : '#fff', stroke: '#000', lineWidth: 2 } });
  graphics.push({ type: 'text', z: r === 0 ? 7 : 9, x: stripX + stripW / 2, y: y0 + h / 2, rotation: -Math.PI / 2,
    style: { text: type, fontSize: 23.5, fontFamily: FONT, fill: '#1A1A1A', align: 'center', verticalAlign: 'middle',
      textAlign: 'center', textVerticalAlign: 'middle' } });
});
graphics.push({ type: 'text', z: 11, x: 27, y: 467, rotation: Math.PI / 2,
  style: { text: 'Number of target countries', fontSize: 29.5, fontFamily: FONT, fill: '#000', align: 'center', verticalAlign: 'middle',
    textAlign: 'center', textVerticalAlign: 'middle' } });
graphics.push({ type: 'text', z: 11, x: 686, y: 930,
  style: { text: 'Forecast week', fontSize: 29.5, fontFamily: FONT, fill: '#000', align: 'center', verticalAlign: 'middle',
    textAlign: 'center', textVerticalAlign: 'middle' } });

var chart = echarts.init(document.getElementById('chart'), null, { renderer: 'svg' });
chart.setOption({
  backgroundColor: '#fff',
  animation: false,
  grid: grids,
  xAxis: xAxes,
  yAxis: yAxes,
  series: series,
  graphic: { elements: graphics }
});
</script>
</body>
</html>
